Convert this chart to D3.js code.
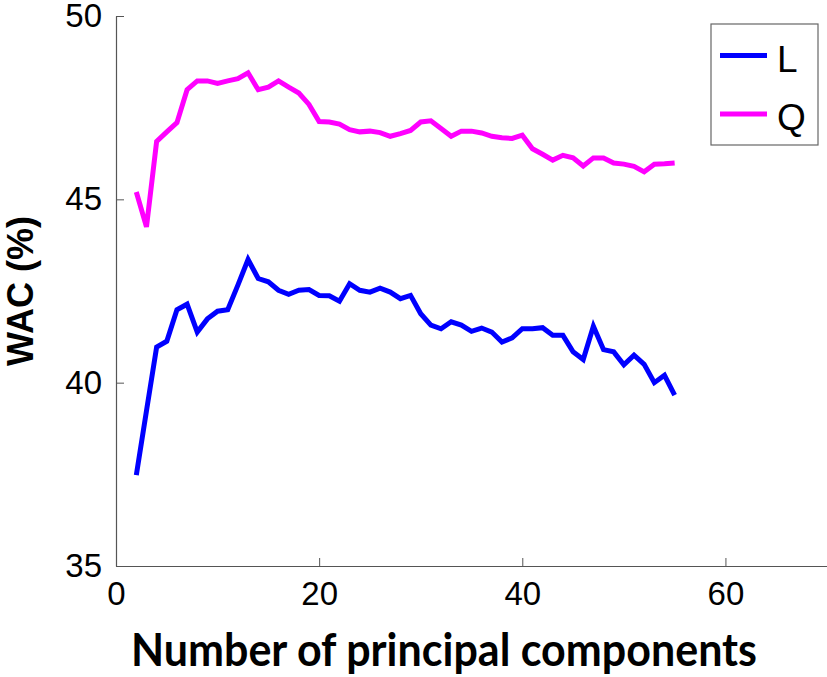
<!DOCTYPE html>
<html>
<head>
<meta charset="utf-8">
<script src="https://cdn.jsdelivr.net/npm/d3@7"></script>
<style>
  body { margin: 0; background: #fff; }
  svg { display: block; }
</style>
</head>
<body>
<div id="chart"></div>
<script>
const components = [2, 3, 4, 5, 6, 7, 8, 9, 10, 11, 12, 13, 14, 15, 16, 17, 18, 19, 20, 21,
  22, 23, 24, 25, 26, 27, 28, 29, 30, 31, 32, 33, 34, 35, 36, 37, 38, 39, 40, 41,
  42, 43, 44, 45, 46, 47, 48, 49, 50, 51, 52, 53, 54, 55];

const wacL = [37.48, 39.23, 40.97, 41.13, 41.99, 42.14, 41.38, 41.74, 41.95, 41.99,
  42.66, 43.36, 42.84, 42.75, 42.52, 42.41, 42.52, 42.54, 42.38, 42.37,
  42.22, 42.70, 42.52, 42.47, 42.58, 42.47, 42.29, 42.38, 41.88, 41.57,
  41.47, 41.66, 41.57, 41.40, 41.49, 41.38, 41.11, 41.22, 41.47, 41.47,
  41.50, 41.29, 41.29, 40.84, 40.63, 41.54, 40.90, 40.84, 40.49, 40.75,
  40.50, 40.00, 40.20, 39.66];

const wacQ = [45.20, 44.25, 46.58, 46.84, 47.09, 47.99, 48.23, 48.23, 48.16, 48.23,
  48.29, 48.45, 47.99, 48.06, 48.23, 48.06, 47.90, 47.59, 47.12, 47.11,
  47.05, 46.90, 46.84, 46.86, 46.82, 46.72, 46.79, 46.88, 47.11, 47.14,
  46.93, 46.72, 46.86, 46.86, 46.81, 46.72, 46.68, 46.66, 46.75, 46.38,
  46.23, 46.07, 46.20, 46.13, 45.91, 46.13, 46.13, 45.99, 45.96, 45.90,
  45.75, 45.96, 45.97, 45.99];

const seriesNames = ['L', 'Q'];
const seriesColors = ['#0000ff', '#ff00ff'];
const xTicks = [0, 20, 40, 60];
const yTicks = [35, 40, 45, 50];

const width = 827, height = 677;
const margin = { top: 16, right: 0, bottom: 111, left: 116 };

const svg = d3.select('#chart').append('svg')
  .attr('width', width)
  .attr('height', height);

const x = d3.scaleLinear().domain([0, 70]).range([margin.left, width - margin.right]);
const y = d3.scaleLinear().domain([35, 50]).range([height - margin.bottom, margin.top]);

const axisColor = '#555';
const tickFont = '"Liberation Sans", Arial, Helvetica, sans-serif';

// x axis, ticks point inward
const gx = svg.append('g')
  .attr('transform', `translate(0, ${y(35)})`)
  .call(d3.axisBottom(x).tickValues(xTicks).tickSizeInner(-8).tickSizeOuter(0).tickPadding(16));
gx.select('.domain').attr('stroke', axisColor).attr('stroke-width', 1.2);
gx.selectAll('.tick line').attr('stroke', axisColor);
gx.selectAll('.tick text')
  .attr('font-family', tickFont).attr('font-size', 33).attr('fill', '#000')
  .attr('dy', '0.71em');

const gy = svg.append('g')
  .attr('transform', `translate(${x(0)}, 0)`)
  .call(d3.axisLeft(y).tickValues(yTicks).tickSizeInner(-8).tickSizeOuter(0).tickPadding(14));
gy.select('.domain').attr('stroke', axisColor).attr('stroke-width', 1.2);
gy.selectAll('.tick line').attr('stroke', axisColor);
gy.selectAll('.tick text')
  .attr('font-family', tickFont).attr('font-size', 33).attr('fill', '#000');

// axis titles
svg.append('text')
  .attr('x', 444)
  .attr('y', 666)
  .attr('text-anchor', 'middle')
  .attr('font-family', 'Lato, "Open Sans", sans-serif')
  .attr('font-weight', 'bold')
  .attr('font-size', 46)
  .attr('textLength', 626)
  .attr('lengthAdjust', 'spacingAndGlyphs')
  .text('Number of principal components');

svg.append('text')
  .attr('transform', `translate(33, ${(y(35) + y(50)) / 2}) rotate(-90)`)
  .attr('text-anchor', 'middle')
  .attr('font-family', tickFont)
  .attr('font-weight', 'bold')
  .attr('font-size', 36)
  .text('WAC (%)');

// lines
const line = d3.line()
  .x((d, i) => x(components[i]))
  .y(d => y(d));

[wacL, wacQ].forEach((vals, k) => {
  svg.append('path')
    .datum(vals)
    .attr('fill', 'none')
    .attr('stroke', seriesColors[k])
    .attr('stroke-width', 5)
    .attr('stroke-linejoin', 'miter')
    .attr('d', line);
});

// legend
const legend = svg.append('g').attr('transform', 'translate(711, 24)');
legend.append('rect')
  .attr('width', 107).attr('height', 121)
  .attr('fill', '#fff')
  .attr('stroke', '#666').attr('stroke-width', 1.2);

seriesNames.forEach((name, k) => {
  const cy = 31.5 + k * 58.5;
  legend.append('line')
    .attr('x1', 9).attr('x2', 56)
    .attr('y1', cy).attr('y2', cy)
    .attr('stroke', seriesColors[k]).attr('stroke-width', 5);
  legend.append('text')
    .attr('x', 66).attr('y', cy + 16)
    .attr('font-family', tickFont).attr('font-size', 37)
    .text(name);
});
</script>
</body>
</html>
